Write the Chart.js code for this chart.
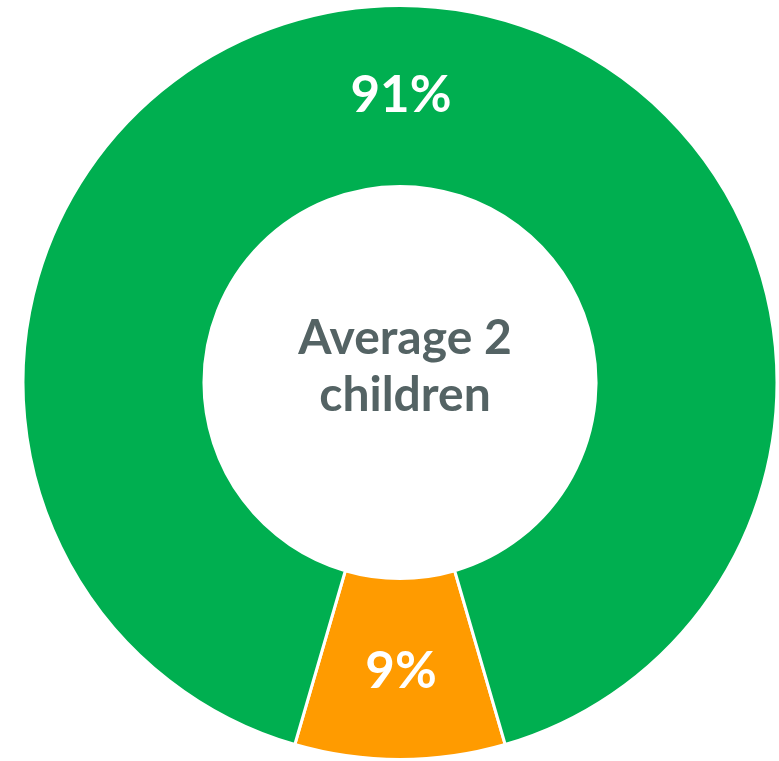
<!DOCTYPE html>
<html>
<head>
<meta charset="utf-8">
<script src="https://cdn.jsdelivr.net/npm/chart.js@4/dist/chart.umd.min.js"></script>
<style>
	html, body { margin: 0; padding: 0; background: #fff; }
	#wrap { width: 779px; height: 761px; position: relative; }
</style>
</head>
<body>
<div id="wrap"><canvas id="myChart"></canvas></div>
<script>
const labels = ['Other', 'Average 2 children'];
const values = [9, 91];
const colors = ['#FF9B00', '#00AF50'];
const centerText = ['Average 2', 'children'];

const sliceLabels = {
	id: 'sliceLabels',
	afterDatasetsDraw(chart) {
		const ctx = chart.ctx;
		const meta = chart.getDatasetMeta(0);
		const total = values.reduce((a, b) => a + b, 0);
		ctx.save();
		ctx.fillStyle = '#fff';
		ctx.font = 'bold 51px Lato';
		ctx.textAlign = 'center';
		ctx.textBaseline = 'middle';
		meta.data.forEach(function (arc, i) {
			const p = arc.tooltipPosition();
			ctx.fillText(Math.round(values[i] / total * 100) + '%', p.x + 1, p.y + (i === 0 ? 3 : 0));
		});
		// center text
		const c = meta.data[0];
		ctx.fillStyle = '#546364';
		ctx.font = 'bold 48px Lato';
		ctx.fillText(centerText[0], c.x + 5, c.y - 44);
		ctx.fillText(centerText[1], c.x + 5, c.y + 13);
		ctx.restore();
	}
};

var ctx = document.getElementById('myChart').getContext('2d');
var myChart = new Chart(ctx, {
	type: 'doughnut',
	data: {
		labels: labels,
		datasets: [{
			data: values,
			backgroundColor: colors,
			borderColor: '#fff',
			borderWidth: 3
		}]
	},
	options: {
		responsive: true,
		maintainAspectRatio: false,
		animation: false,
		cutout: '52%',
		rotation: 180 - 360 * values[0] / 200,
		layout: { padding: { left: 21, right: 0, top: 4, bottom: 0 } },
		plugins: {
			legend: { display: false },
			tooltip: { enabled: false }
		}
	},
	plugins: [sliceLabels]
});
</script>
</body>
</html>
